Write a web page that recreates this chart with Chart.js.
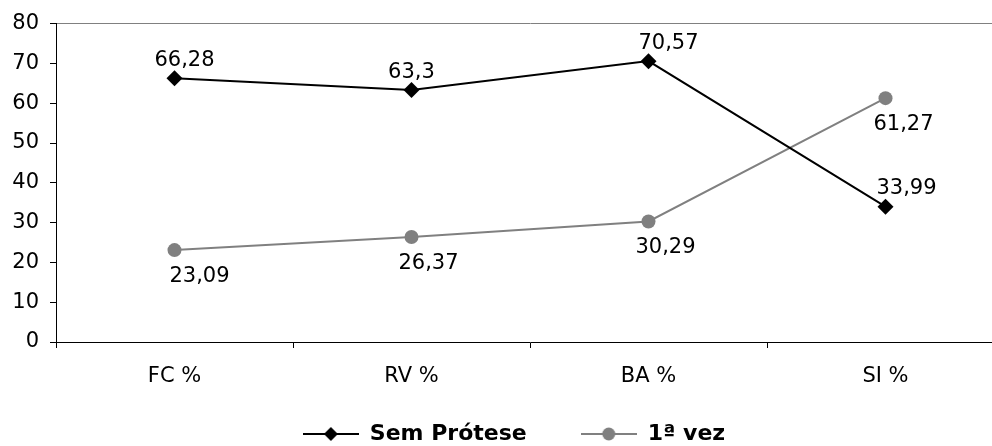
<!DOCTYPE html>
<html>
<head>
<meta charset="utf-8">
<script src="https://cdn.jsdelivr.net/npm/chart.js@4.4.1/dist/chart.umd.min.js"></script>
<style>
  html, body { margin: 0; padding: 0; background: #fff; overflow: hidden; }
  #wrap { width: 1028px; height: 446px; }
</style>
</head>
<body>
<div id="wrap"><canvas id="c" width="1028" height="446"></canvas></div>
<script>
const categories = ['FC %', 'RV %', 'BA %', 'SI %'];
const semProtese = [66.28, 63.3, 70.57, 33.99];
const primeiraVez = [23.09, 26.37, 30.29, 61.27];
const seriesNames = ['Sem Prótese', '1ª vez'];
const yTicksMin = 0, yTicksMax = 80, yStep = 10;

const FONT = "'DejaVu Sans', Verdana, sans-serif";

function legendIcon(color, style) {
  const c = document.createElement('canvas');
  c.width = 56; c.height = 18;
  const g = c.getContext('2d');
  g.strokeStyle = color; g.lineWidth = 2;
  g.beginPath(); g.moveTo(0, 9); g.lineTo(56, 9); g.stroke();
  g.fillStyle = color;
  if (style === 'diamond') {
    g.beginPath(); g.moveTo(28, 2); g.lineTo(35, 9); g.lineTo(28, 16); g.lineTo(21, 9); g.closePath(); g.fill();
  } else {
    g.beginPath(); g.arc(28, 9, 6.5, 0, Math.PI * 2); g.fill();
  }
  return c;
}
const icons = [legendIcon('#000000', 'diamond'), legendIcon('#808080', 'circle')];

const labelOffsets = {
  0: { dx: [10, 0, 20, 21], dy: -18 },
  1: { dx: [25, 17, 17, 18], dy: 26 }
};

const dataLabels = {
  id: 'dataLabels',
  afterLayout(chart) {
    // let the x tick labels draw below the axis box, and place the legend row
    const x = chart.scales.x;
    x.bottom = chart.height;
    const lg = chart.legend;
    if (lg) {
      const h = lg.height;
      lg.top = 369; lg.bottom = 369 + h;
      lg.left = 0; lg.right = chart.width;
    }
  },
  afterDatasetsDraw(chart) {
    const ctx = chart.ctx;
    ctx.save();
    ctx.font = '21px ' + FONT;
    ctx.fillStyle = '#000';
    ctx.textAlign = 'center';
    ctx.textBaseline = 'middle';
    chart.data.datasets.forEach((ds, i) => {
      const meta = chart.getDatasetMeta(i);
      const off = labelOffsets[i];
      meta.data.forEach((el, j) => {
        const txt = String(ds.data[j]).replace('.', ',');
        ctx.fillText(txt, el.x + off.dx[j], el.y + off.dy);
      });
    });
    ctx.restore();
  }
};

new Chart(document.getElementById('c'), {
  type: 'line',
  data: {
    labels: categories,
    datasets: [
      {
        label: seriesNames[0],
        data: semProtese,
        borderColor: '#000000',
        backgroundColor: '#000000',
        borderWidth: 2,
        pointStyle: 'rectRot',
        pointRadius: 8,
        pointHoverRadius: 8,
        pointBorderWidth: 0,
        tension: 0
      },
      {
        label: seriesNames[1],
        data: primeiraVez,
        borderColor: '#808080',
        backgroundColor: '#808080',
        borderWidth: 2,
        pointStyle: 'circle',
        pointRadius: 7,
        pointHoverRadius: 7,
        pointBorderWidth: 0,
        tension: 0
      }
    ]
  },
  options: {
    responsive: false,
    animation: false,
    events: [],
    layout: { padding: { top: 21, right: 24, left: 0, bottom: 0 } },
    scales: {
      x: {
        type: 'category',
        offset: true,
        grid: {
          display: true,
          offset: true,
          drawOnChartArea: false,
          color: '#000',
          tickColor: '#000',
          tickLength: 6
        },
        border: { display: true, color: '#000', width: 1 },
        ticks: {
          color: '#000',
          font: { family: FONT, size: 21 },
          padding: 16,
          maxRotation: 0,
          autoSkip: false
        },
        afterFit(scale) { scale.height = 18; }
      },
      y: {
        min: yTicksMin,
        max: yTicksMax,
        grid: {
          display: true,
          color: (c) => (c.tick && c.tick.value === yTicksMax) ? '#808080' : 'rgba(0,0,0,0)',
          tickColor: '#000',
          tickLength: 6
        },
        border: { display: true, color: '#000', width: 1 },
        ticks: {
          stepSize: yStep,
          color: '#000',
          font: { family: FONT, size: 21 },
          padding: 11
        },
        afterFit(scale) { scale.width = 56; }
      }
    },
    plugins: {
      tooltip: { enabled: false },
      legend: {
        display: true,
        position: 'bottom',
        labels: {
          usePointStyle: true,
          pointStyleWidth: 56,
          padding: 54,
          color: '#000',
          font: { family: FONT, size: 22, weight: 'bold' },
          generateLabels(chart) {
            const items = Chart.defaults.plugins.legend.labels.generateLabels(chart);
            items.forEach((it, i) => { it.pointStyle = icons[i]; });
            return items;
          }
        }
      }
    }
  },
  plugins: [dataLabels]
});
</script>
</body>
</html>
